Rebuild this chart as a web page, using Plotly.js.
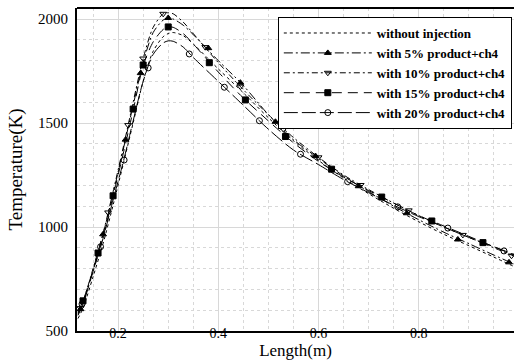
<!DOCTYPE html>
<html>
<head>
<meta charset="utf-8">
<script src="https://cdn.plot.ly/plotly-3.0.1.min.js"></script>
<style>html,body{margin:0;padding:0;background:#fff;}#chart{width:515px;height:364px;}</style>
</head>
<body>
<div id="chart"></div>
<script>
// Length positions (m)
const lengthX = [0.12,0.13,0.15,0.17,0.19,0.21,0.23,0.25,0.27,0.29,0.30,0.31,0.33,0.35,0.40,0.45,0.50,0.55,0.60,0.65,0.70,0.75,0.80,0.85,0.90,0.95,0.99];
// Temperatures (K)
const tWithout = [560,610,760,920,1105,1300,1500,1700,1845,1915,1930,1935,1920,1880,1760,1645,1525,1415,1320,1235,1160,1090,1025,965,910,855,810];
const t5  = [580,635,795,965,1160,1370,1585,1790,1935,1995,2005,2000,1970,1925,1800,1680,1540,1420,1330,1245,1170,1100,1035,975,920,865,822];
const t10 = [585,640,800,970,1170,1380,1600,1810,1960,2025,2030,2025,1985,1930,1790,1660,1540,1430,1335,1250,1180,1115,1055,1000,950,900,860];
const t15 = [590,645,790,950,1150,1350,1560,1775,1890,1950,1962,1960,1930,1880,1745,1620,1510,1405,1315,1240,1175,1115,1055,1005,955,905,865];
const t20 = [575,630,785,945,1130,1310,1510,1700,1830,1885,1895,1893,1865,1815,1700,1585,1470,1370,1300,1228,1165,1105,1050,1000,950,905,868];

// Marker positions
const m5x  = [0.125,0.17,0.215,0.245,0.30,0.38,0.444,0.514,0.594,0.68,0.776,0.878,0.98];
const m5y  = [605,965,1420,1740,2005,1860,1694,1506,1341,1196,1066,940,830];
const m10x = [0.125,0.18,0.22,0.25,0.29,0.374,0.444,0.53,0.60,0.684,0.78,0.888,0.985];
const m10y = [610,1070,1490,1810,2025,1865,1675,1470,1335,1202,1080,962,862];
const m15x = [0.13,0.16,0.19,0.23,0.25,0.30,0.382,0.454,0.534,0.626,0.726,0.826,0.928];
const m15y = [645,875,1150,1567,1779,1962,1790,1611,1435,1278,1144,1029,925];
const m20x = [0.128,0.165,0.212,0.26,0.342,0.412,0.482,0.564,0.658,0.758,0.858,0.97];
const m20y = [630,905,1322,1765,1832,1672,1511,1350,1218,1097,995,885];

const seriesNames = ['without injection','with 5% product+ch4','with 10% product+ch4','with 15% product+ch4','with 20% product+ch4'];
const tickValsX = [0.2,0.4,0.6,0.8];
const tickTextX = ['0.2','0.4','0.6','0.8'];
const tickValsY = [500,1000,1500,2000];

const defs = [
  {y:tWithout, mx:[], my:[], dash:'dot', sym:null},
  {y:t5, mx:m5x, my:m5y, dash:'9px,3px,2px,3px', sym:'triangle-up'},
  {y:t10, mx:m10x, my:m10y, dash:'6px,3px,2px,3px', sym:'triangle-down-open'},
  {y:t15, mx:m15x, my:m15y, dash:'10px,6px', sym:'square'},
  {y:t20, mx:m20x, my:m20y, dash:'14px,4px', sym:'circle-open'}
];

const SERIF = 'Liberation Serif';

const traces = [];
defs.forEach((d,i)=>{
  traces.push({x:lengthX, y:d.y, mode:'lines', type:'scatter', showlegend:false,
    line:{color:'#000', width:1, dash:d.dash, shape:'spline', smoothing:0.8}, hoverinfo:'skip'});
  const leg = {x:[null], y:[null], name:seriesNames[i], type:'scatter',
    mode:'lines', line:{color:'#000', width:1, dash:d.dash}};
  if (d.sym) {
    const mk = {symbol:d.sym, size:6, color:'#000', line:{color:'#000', width:1}};
    traces.push({x:d.mx, y:d.my, mode:'markers', type:'scatter', showlegend:false, marker:mk});
    leg.mode = 'lines+markers';
    leg.marker = mk;
  }
  traces.push(leg);
});

const layout = {
  width:515, height:364,
  margin:{l:77, r:1, t:8, b:33},
  paper_bgcolor:'#fff', plot_bgcolor:'#fff',
  font:{family:SERIF, color:'#000', size:14},
  xaxis:{range:[0.118,0.99], tickvals:tickValsX, ticktext:tickTextX,
    showline:true, linecolor:'#000', linewidth:2, ticks:'', ticklen:0, zeroline:false,
    showgrid:true, gridcolor:'#d8d8d8', gridwidth:1,
    minor:{dtick:0.05, tick0:0, showgrid:true, gridcolor:'#d8d8d8', griddash:'dot', gridwidth:1},
    tickfont:{family:SERIF, size:14}, ticklabelstandoff:-12,
    title:{text:'Length(m)', font:{family:SERIF, size:17}, standoff:2}},
  yaxis:{range:[500,2053], tickvals:tickValsY,
    showline:true, linecolor:'#000', linewidth:2, ticks:'', ticklen:0, zeroline:false,
    showgrid:true, gridcolor:'#d8d8d8', gridwidth:1,
    minor:{dtick:100, tick0:0, showgrid:true, gridcolor:'#d8d8d8', griddash:'dot', gridwidth:1},
    tickfont:{family:SERIF, size:15}, ticklabelstandoff:4,
    title:{text:'Temperature(K)', font:{family:SERIF, size:19}, standoff:10}},
  shapes:[{type:'line', xref:'paper', yref:'paper', x0:0, x1:1, y0:1, y1:1, line:{color:'#000', width:2}}],
  legend:{x:0.995, y:0.972, xanchor:'right', yanchor:'top', bgcolor:'#fff', bordercolor:'#000', borderwidth:1,
    font:{family:SERIF, size:13, weight:'bold'}, itemwidth:88, tracegroupgap:0}
};

Plotly.newPlot('chart', traces, layout, {staticPlot:true, displayModeBar:false});
</script>
</body>
</html>
